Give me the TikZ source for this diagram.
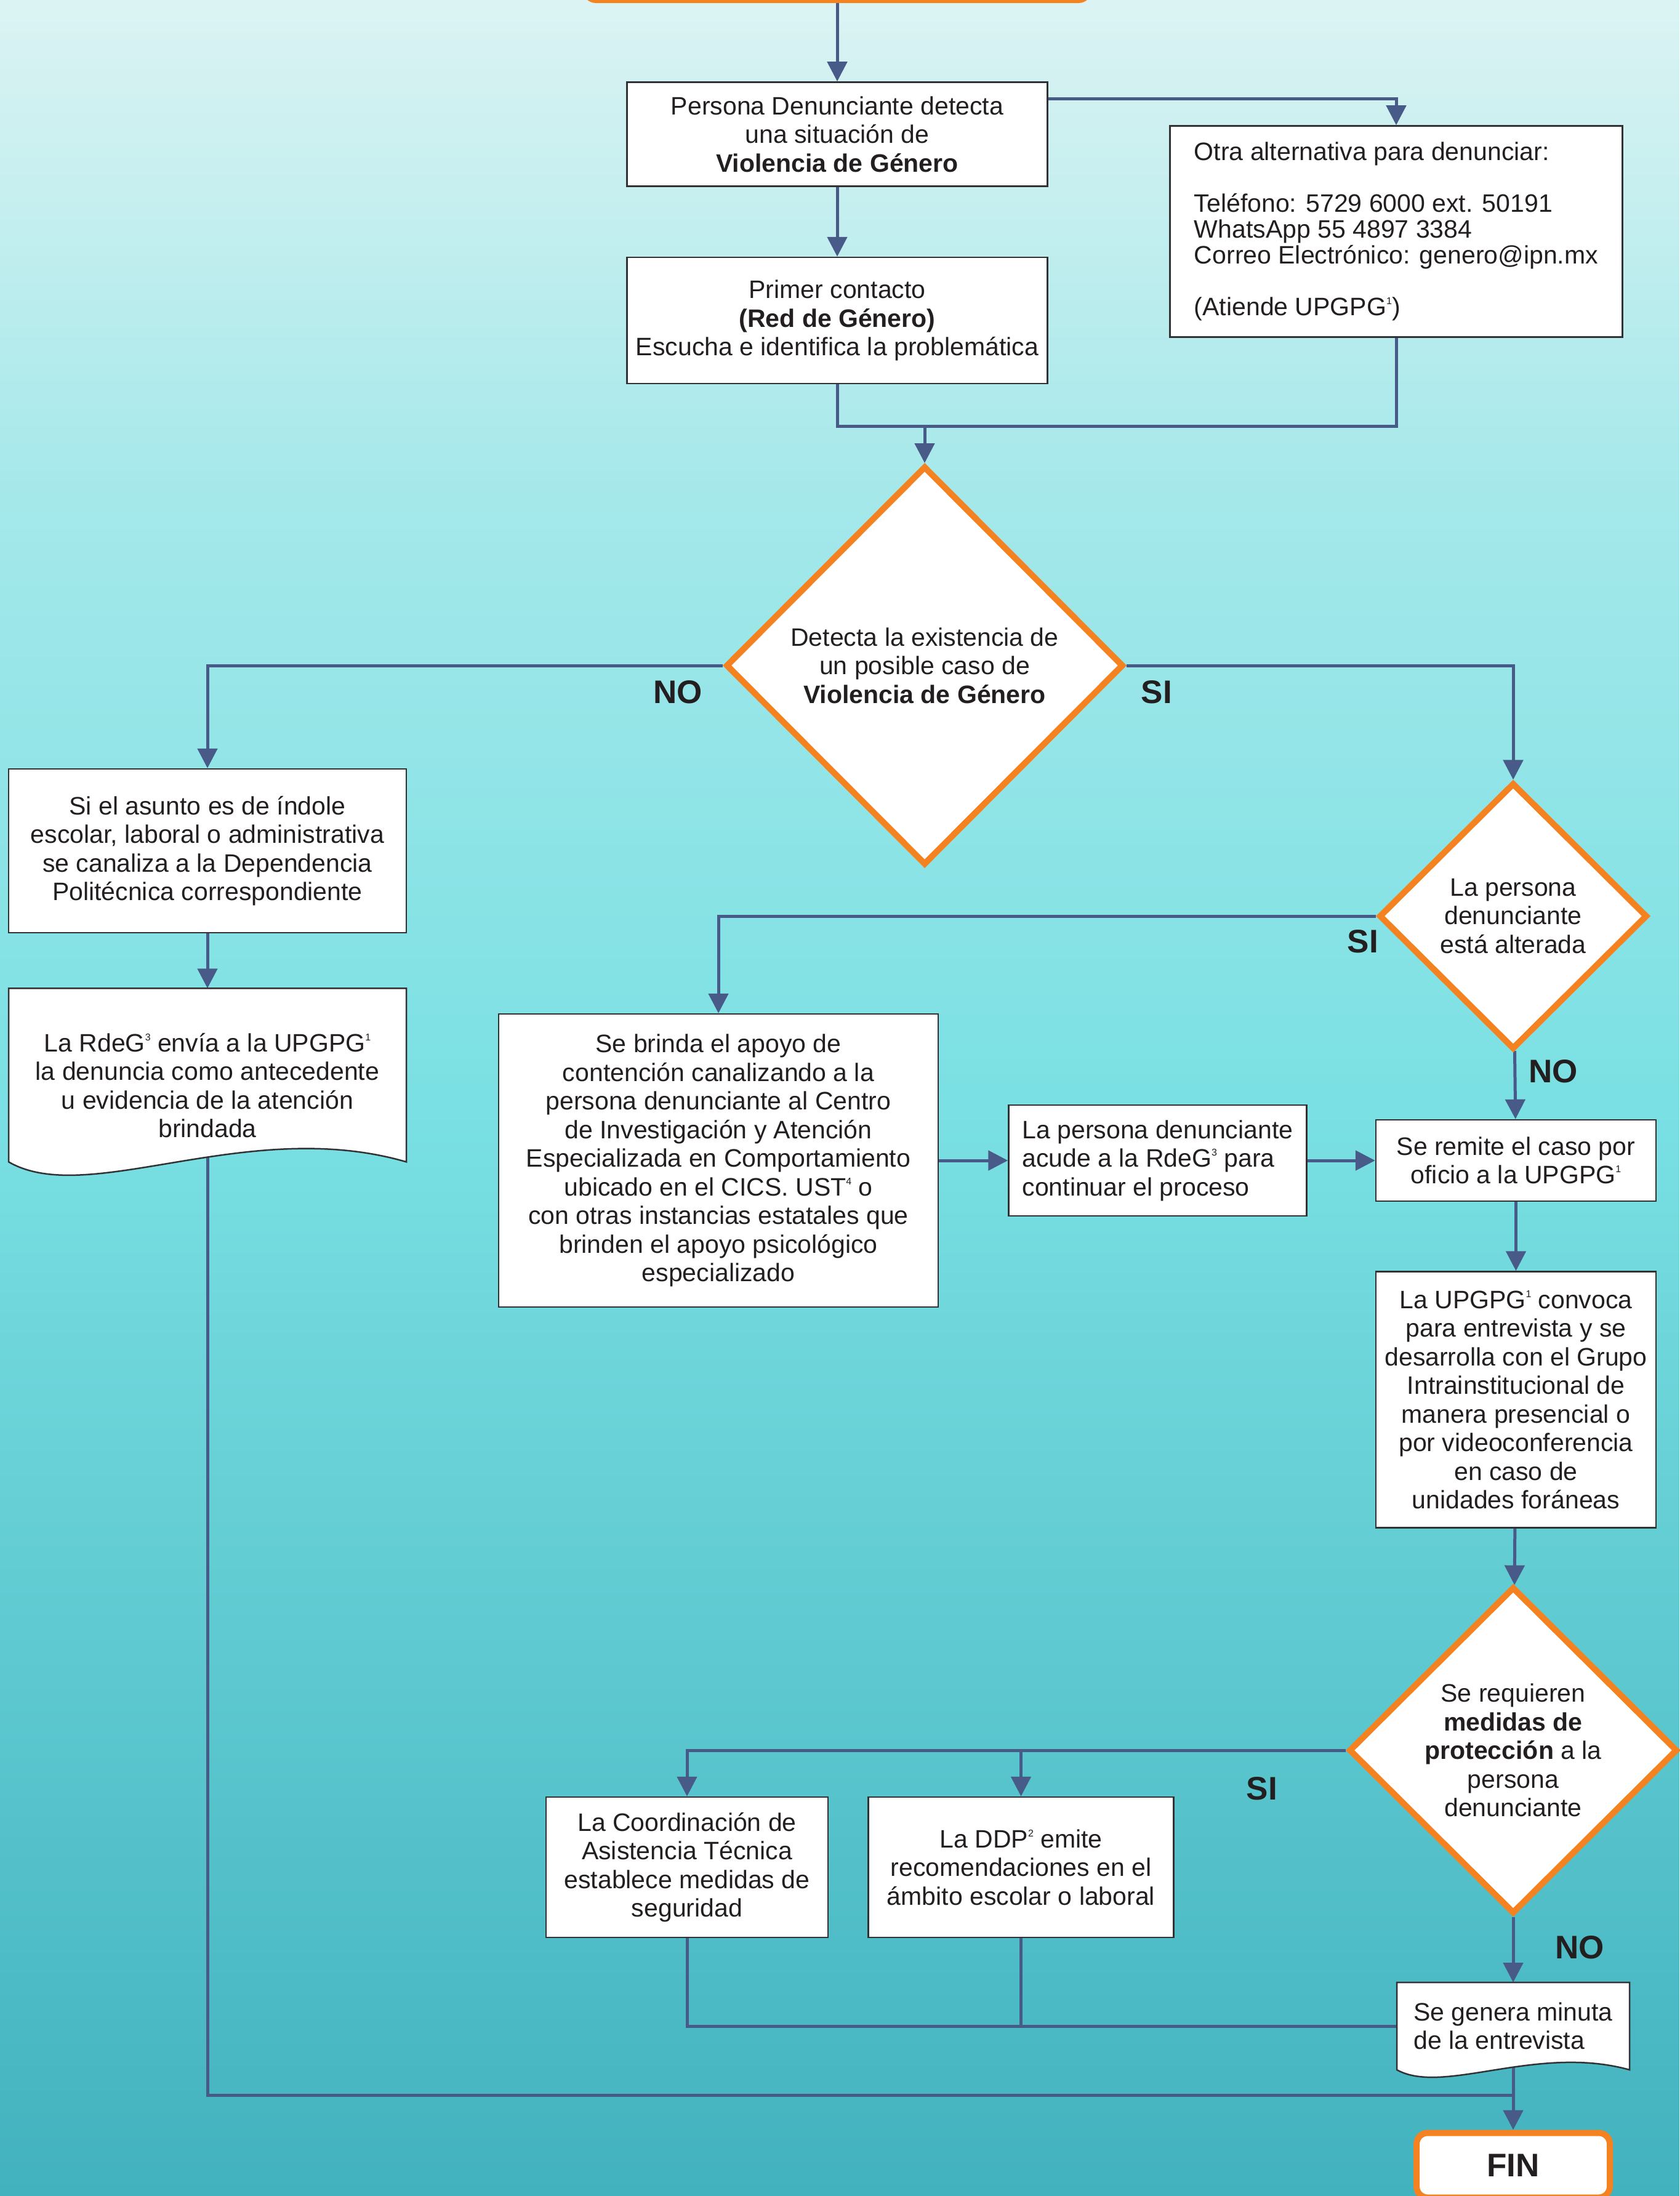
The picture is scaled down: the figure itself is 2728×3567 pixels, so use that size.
\documentclass[tikz,border=0pt]{standalone}
\usepackage{fontspec}
\setmainfont{Liberation Sans}
\usetikzlibrary{positioning, shapes.geometric, arrows.meta, calc}

\definecolor{azul}{RGB}{72,90,135}
\definecolor{naranja}{RGB}{245,130,32}
\definecolor{borde}{RGB}{50,50,52}
\definecolor{tinta}{RGB}{35,31,32}
\definecolor{cielo}{RGB}{220,243,243}
\definecolor{agua}{RGB}{165,232,234}
\definecolor{turquesa}{RGB}{122,224,227}
\definecolor{mar}{RGB}{66,178,190}

\pgfdeclarelayer{fondo}
\pgfdeclarelayer{lineas}
\pgfdeclarelayer{cajas}
\pgfsetlayers{fondo,lineas,cajas,main}

% superindice de las notas
\newcommand{\nota}[1]{\raisebox{18pt}{\fontsize{16}{16}\selectfont #1}}
% contorno de documento (borde inferior ondulado)
\newcommand{\hoja}[3]{%
  \begin{pgfonlayer}{cajas}
    \draw[hojaborde] let \p1=(#1.north west), \p2=(#1.north east), \n1={\x2-\x1} in
      (\p1) -- (\x1,\y1-#2) .. controls (\x1+0.2*\n1,\y1-#2-#3) and (\x1+0.6*\n1,\y1-#2+#3) .. (\x2,\y1-#2) -- (\p2) -- cycle;
  \end{pgfonlayer}}

\begin{document}
\begin{tikzpicture}[x=1pt, y=-1pt,
    texto/.style={text=tinta, font=\fontsize{41}{46.5}\selectfont, inner sep=0pt},
    caja/.style={texto, rectangle, draw=borde, line width=2.5pt, fill=white, align=center},
    hoja/.style={texto, rectangle, align=center, outer sep=0pt},
    hojaborde/.style={draw=borde, line width=2.5pt, fill=white},
    decision/.style={texto, diamond, aspect=1, draw=naranja, line width=10pt, fill=white, align=center},
    terminal/.style={rectangle, rounded corners=18pt, draw=naranja, line width=10pt, fill=white,
      text=tinta, font=\bfseries\fontsize{53}{53}\selectfont},
    etiqueta/.style={text=tinta, font=\bfseries\fontsize{53}{53}\selectfont, inner sep=0pt},
    linea/.style={draw=azul, line width=5pt},
    flecha/.style={linea, -{Triangle[length=32pt, width=32pt]}}]

    \useasboundingbox (0,0) rectangle (2728,3567);
    \begin{pgfonlayer}{fondo}
        \shade[top color=cielo, bottom color=agua] (0,0) rectangle (2728,801);
        \shade[top color=agua, bottom color=turquesa] (0,800) rectangle (2728,1801);
        \shade[top color=turquesa, bottom color=mar] (0,1800) rectangle (2728,3567);
    \end{pgfonlayer}

    % Cajas
    \node[terminal, minimum width=819pt, minimum height=140pt] (inicio) at (1360,-70) {};
    \node[caja, minimum width=683pt, minimum height=169pt] (b1) at (1360,218)
        {Persona Denunciante detecta\\una situación de\\\textbf{Violencia de Género}};
    \node[caja, minimum width=683pt, minimum height=205pt] (b2) [below=113pt of b1]
        {Primer contacto\\\textbf{(Red de Género)}\\Escucha e identifica la problemática};
    \node[caja, align=left, font=\fontsize{41}{42}\selectfont, minimum width=735pt, minimum height=343pt] (otra) at (2268,376)
        {Otra alternativa para denunciar:\\[42pt]Teléfono: 5729 6000 ext. 50191\\WhatsApp 55 4897 3384\\Correo Electrónico: genero@ipn.mx\\[42pt](Atiende UPGPG\nota{1})};
    \node[decision, minimum width=646pt, minimum height=648pt] (d1) at (1502,1081)
        {Detecta la existencia de\\un posible caso de\\\textbf{Violencia de Género}};
    \node[caja, minimum width=646pt, minimum height=266pt] (b3) at (337,1382)
        {Si el asunto es de índole\\escolar, laboral o administrativa\\se canaliza a la Dependencia\\Politécnica correspondiente};
    \node[hoja, minimum width=646pt, minimum height=316pt] (doc4) [below=89pt of b3]
        {La RdeG\nota{3} envía a la UPGPG\nota{1}\\la denuncia como antecedente\\u evidencia de la atención\\brindada};
    \hoja{doc4}{282pt}{75pt}
    \node[decision, minimum width=436pt, minimum height=433pt] (d2) at (2458,1488)
        {La persona\\denunciante\\está alterada};
    \node[caja, minimum width=714pt, minimum height=476pt] (b5) at (1167,1885)
        {Se brinda el apoyo de\\contención canalizando a la\\persona denunciante al Centro\\de Investigación y Atención\\Especializada en Comportamiento\\ubicado en el CICS. UST\nota{4} o\\con otras instancias estatales que\\brinden el apoyo psicológico\\especializado};
    \node[caja, align=left, minimum width=484pt, minimum height=180pt] (b7) [right=112pt of b5]
        {La persona denunciante\\acude a la RdeG\nota{3} para\\continuar el proceso};
    \node[caja, minimum width=455pt, minimum height=132pt] (b6) [right=110pt of b7]
        {Se remite el caso por\\oficio a la UPGPG\nota{1}};
    \node[caja, minimum width=455pt, minimum height=416pt] (b8) [below=112pt of b6]
        {La UPGPG\nota{1} convoca\\para entrevista y se\\desarrolla con el Grupo\\Intrainstitucional de\\manera presencial o\\por videoconferencia\\en caso de\\unidades foráneas};
    \node[decision, minimum width=534pt, minimum height=531pt] (d3) at (2458,2843)
        {Se requieren\\\textbf{medidas de}\\\textbf{protección} a la\\persona\\denunciante};
    \node[caja, minimum width=458pt, minimum height=228pt] (b9) at (1116,3033)
        {La Coordinación de\\Asistencia Técnica\\establece medidas de\\seguridad};
    \node[caja, minimum width=496pt, minimum height=228pt] (b10) [right=63pt of b9]
        {La DDP\nota{2} emite\\recomendaciones en el\\ámbito escolar o laboral};
    \node[hoja, align=left, minimum width=378pt, minimum height=142pt] (doc11) at (2458,3291)
        {Se genera minuta\\de la entrevista};
    \hoja{doc11}{142pt}{42pt}
    \node[terminal, minimum width=314pt, minimum height=105pt] (fin) at (2458,3517) {FIN};

    % Etiquetas
    \node[etiqueta] (no1) at (1101,1124) {NO};
    \node[etiqueta] (si1) at (1879,1124) {SI};
    \node[etiqueta] (si2) at (2214,1529) {SI};
    \node[etiqueta] (no2) at (2523,1740) {NO};
    \node[etiqueta] (si3) at (2050,2905) {SI};
    \node[etiqueta] (no3) at (2566,3163) {NO};

    % Conexiones
    \begin{pgfonlayer}{lineas}
        \coordinate (u1) at (1502,692);
        \coordinate (u2) at (2458,3403);
        \draw[flecha] (inicio) -- (b1);
        \draw[flecha] (b1) -- (b2);
        \draw[flecha] ($(b1.north east)+(0,28)$) -| (otra);
        \draw[linea] (b2) |- (u1) -| (otra);
        \draw[flecha] (u1) -- (d1);
        \draw[flecha] (d1) -| (b3);
        \draw[flecha] (d1) -| (d2);
        \draw[flecha] (b3) -- (doc4);
        \draw[linea] (doc4.center) |- (u2);
        \draw[flecha] (d2) -| (b5);
        \draw[flecha] (d2) -- (b6);
        \draw[flecha] (b5) -- (b7);
        \draw[flecha] (b7) -- (b6);
        \draw[flecha] (b6) -- (b8);
        \draw[flecha] (b8) -- (d3);
        \draw[flecha] (d3) -| (b9);
        \draw[flecha] (d3) -| (b10);
        \draw[flecha] (d3) -- (doc11);
        \draw[linea] (b9) |- (doc11);
        \draw[linea] (b10) -- (b10 |- doc11);
        \draw[flecha] (doc11.center) -- (fin);
    \end{pgfonlayer}
\end{tikzpicture}
\end{document}
